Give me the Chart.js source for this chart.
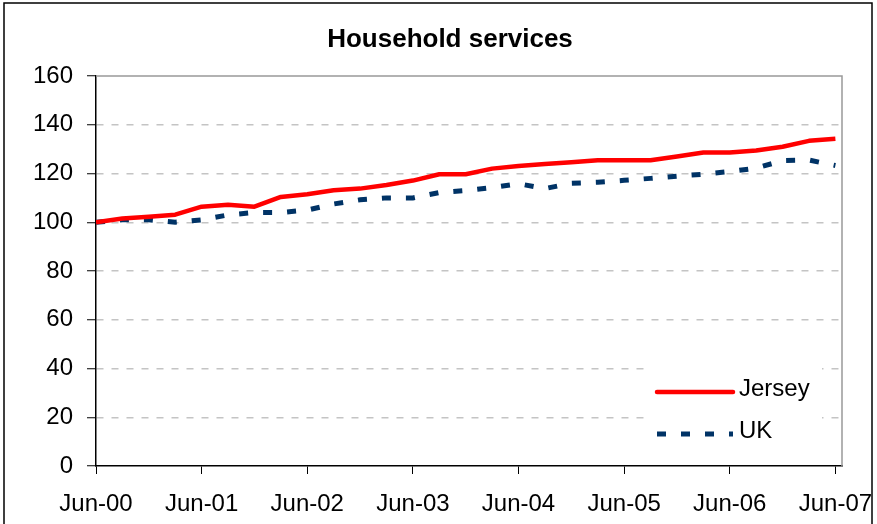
<!DOCTYPE html>
<html>
<head>
<meta charset="utf-8">
<script src="https://cdn.jsdelivr.net/npm/chart.js@4/dist/chart.umd.min.js"></script>
<style>
  html, body { margin: 0; padding: 0; background: #fff; }
  #wrap { width: 877px; height: 524px; }
</style>
</head>
<body>
<div id="wrap"><canvas id="grafico" width="877" height="524"></canvas></div>
<script>
// Trimestres (eje X)
const quarters = ['Jun-00','Sep-00','Dec-00','Mar-01','Jun-01','Sep-01','Dec-01','Mar-02','Jun-02','Sep-02',
    'Dec-02','Mar-03','Jun-03','Sep-03','Dec-03','Mar-04','Jun-04','Sep-04','Dec-04','Mar-05',
    'Jun-05','Sep-05','Dec-05','Mar-06','Jun-06','Sep-06','Dec-06','Mar-07','Jun-07'];

const jersey = [100, 101.5, 102.3, 103.1, 106.4, 107.2, 106.4, 110.4, 111.5, 113.1,
    113.8, 115.3, 117.1, 119.7, 119.7, 122, 123.1, 123.9, 124.6, 125.4,
    125.4, 125.4, 127, 128.6, 128.6, 129.4, 131, 133.4, 134.3];

const uk = [100, 101, 101, 100, 101, 103, 104, 104, 105, 107.5,
    109.2, 110, 110, 112.2, 113, 114.2, 115.8, 113.8, 116, 116.4,
    117.2, 118, 118.9, 119.7, 120.8, 122.2, 125.3, 125.5, 123.3];

// Etiquetas del eje X (solo junio)
const tickLabels = ['Jun-00','Jun-01','Jun-02','Jun-03','Jun-04','Jun-05','Jun-06','Jun-07'];
const yTicks = [0, 20, 40, 60, 80, 100, 120, 140, 160];

const FONT = '"Liberation Sans", Arial, sans-serif';

// Marco del área de trazado, borde exterior y leyenda
const marcoPlugin = {
    id: 'marco',
    afterLayout(chart) {
        // centrar el título algo más a la derecha, como en el original
        if (chart.titleBlock) chart.titleBlock.left = 58;
    },
    beforeDatasetsDraw(chart) {
        const { ctx, chartArea: a } = chart;
        ctx.save();
        ctx.strokeStyle = '#999';
        ctx.lineWidth = 1.5;
        ctx.beginPath();
        ctx.moveTo(a.left, a.top);
        ctx.lineTo(a.right, a.top);
        ctx.lineTo(a.right, a.bottom);
        ctx.stroke();
        ctx.restore();
    },
    afterDraw(chart) {
        const { ctx, chartArea: a } = chart;
        ctx.save();
        // borde exterior
        ctx.strokeStyle = '#000';
        ctx.lineWidth = 1.5;
        ctx.strokeRect(4, 3, chart.width - 9, chart.height + 10);

        // leyenda
        const bx = a.right - 194, by = a.bottom - 106;
        ctx.fillStyle = '#fff';
        ctx.fillRect(bx, by, 174, 100);
        ctx.font = '24px ' + FONT;
        ctx.textBaseline = 'middle';
        ctx.fillStyle = '#000';
        chart.data.datasets.forEach((ds, i) => {
            const y = by + 32 + i * 42;
            ctx.strokeStyle = ds.borderColor;
            ctx.lineWidth = ds.borderWidth;
            ctx.setLineDash(ds.borderDash || []);
            ctx.lineCap = ds.borderDash ? 'butt' : 'round';
            ctx.beginPath();
            ctx.moveTo(bx + 9, y);
            ctx.lineTo(bx + 85, y);
            ctx.stroke();
            ctx.setLineDash([]);
            ctx.fillText(ds.label, bx + 91, y - 3);
        });
        ctx.restore();
    }
};

new Chart(document.getElementById('grafico'), {
    type: 'line',
    data: {
        datasets: [
            {
                label: 'Jersey',
                data: jersey.map((v, i) => ({ x: i, y: v })),
                borderColor: '#ff0000',
                borderWidth: 4.5,
                borderJoinStyle: 'round',
                pointRadius: 0,
                tension: 0
            },
            {
                label: 'UK',
                data: uk.map((v, i) => ({ x: i, y: v })),
                borderColor: '#003366',
                borderWidth: 5,
                borderDash: [9, 15],
                borderCapStyle: 'butt',
                pointRadius: 0,
                tension: 0
            }
        ]
    },
    options: {
        responsive: false,
        animation: false,
        devicePixelRatio: 1,
        layout: { padding: { left: 0, right: 35, top: 0, bottom: 0 } },
        plugins: {
            legend: { display: false },
            tooltip: { enabled: false },
            title: {
                display: true,
                text: 'Household services',
                color: '#000',
                font: { family: FONT, size: 26, weight: 'bold', lineHeight: 1.2 },
                padding: { top: 24, bottom: 20.8 }
            }
        },
        scales: {
            x: {
                type: 'linear',
                min: 0,
                max: 28.25,
                afterBuildTicks(scale) {
                    scale.ticks = tickLabels.map(l => ({ value: quarters.indexOf(l) }));
                },
                afterFit(scale) {
                    scale.height = 58;
                    scale.paddingLeft = 0;
                    scale.paddingRight = 0;
                },
                ticks: {
                    color: '#000',
                    font: { family: FONT, size: 24 },
                    padding: 16,
                    maxRotation: 0,
                    autoSkip: false,
                    callback: (v) => quarters[v]
                },
                grid: { drawOnChartArea: false, tickLength: 8, tickColor: '#000', tickWidth: 1 },
                border: { color: '#000', width: 1.5 }
            },
            y: {
                min: 0,
                max: 160,
                afterBuildTicks(scale) {
                    scale.ticks = yTicks.map(v => ({ value: v }));
                },
                afterFit(scale) { scale.width = 96; },
                ticks: {
                    color: '#000',
                    font: { family: FONT, size: 24 },
                    padding: 14
                },
                grid: {
                    color: (c) => (c.tick && (c.tick.value === 0 || c.tick.value === 160)) ? 'rgba(0,0,0,0)' : '#c4c4c4',
                    lineWidth: 1.5,
                    tickLength: 9,
                    tickColor: '#000',
                    tickWidth: 1,
                    tickBorderDash: []
                },
                border: { color: '#000', width: 1.5, dash: [7, 8] }
            }
        }
    },
    plugins: [marcoPlugin]
});
</script>
</body>
</html>
